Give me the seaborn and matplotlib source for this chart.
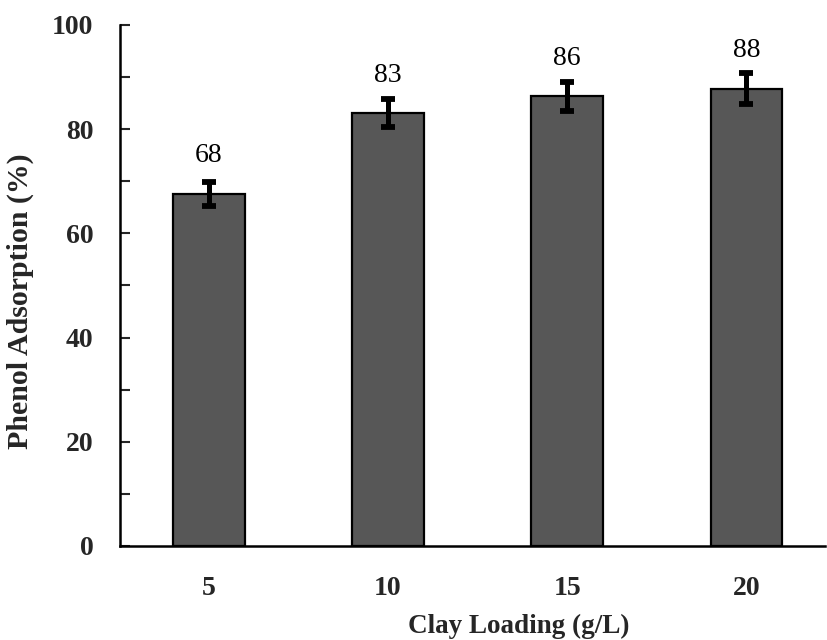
import numpy as np
import pandas as pd
import seaborn as sns
import matplotlib.pyplot as plt
from matplotlib.ticker import MultipleLocator

# Phenol adsorption at different clay loadings
loadings = ["5", "10", "15", "20"]
adsorption = [67.6, 83.1, 86.3, 87.8]
adsorption_err = [2.3, 2.6, 2.8, 2.9]

df = pd.DataFrame({"loading": loadings, "adsorption": adsorption})

sns.set_theme(style="ticks")
plt.rcParams["font.family"] = ["Liberation Serif", "DejaVu Serif"]

fig = plt.figure(figsize=(8.27, 6.40), dpi=100)
ax = fig.add_axes([0.145, 0.147, 0.853, 0.814])

sns.barplot(data=df, x="loading", y="adsorption", order=loadings,
            color="#575757", saturation=1, width=0.4, errorbar=None,
            edgecolor="black", linewidth=1.6, ax=ax)

pos = np.arange(len(loadings))
ax.errorbar(pos, adsorption, yerr=adsorption_err, fmt="none",
            ecolor="black", elinewidth=3.6, capsize=4.8, capthick=4.2, zorder=5)

# value labels sit a fixed distance above each bar
for x, v in zip(pos, adsorption):
    ax.text(x, v + 6.0, f"{v:.0f}", ha="center", va="baseline",
            fontsize=20, color="black")

ax.set_ylim(0, 100)
ax.set_xlim(-0.495, 3.44)
ax.yaxis.set_major_locator(MultipleLocator(20))
ax.yaxis.set_minor_locator(MultipleLocator(10))
ax.tick_params(axis="y", which="both", direction="in", length=7, width=1.5,
               labelsize=20, pad=19)
ax.tick_params(axis="x", length=0, labelsize=20, pad=22)
for lbl in ax.get_xticklabels() + ax.get_yticklabels():
    lbl.set_fontweight("bold")

sns.despine(ax=ax)
for side in ("left", "bottom"):
    ax.spines[side].set_linewidth(1.8)
    ax.spines[side].set_color("black")

ax.set_xlabel("Clay Loading (g/L)", fontsize=19.5, fontweight="bold")
ax.set_ylabel("Phenol Adsorption (%)", fontsize=21.5, fontweight="bold")
ax.xaxis.set_label_coords(0.565, -0.131)
ax.yaxis.set_label_coords(-0.122, 0.47)

fig.savefig("out.png", dpi=100)
